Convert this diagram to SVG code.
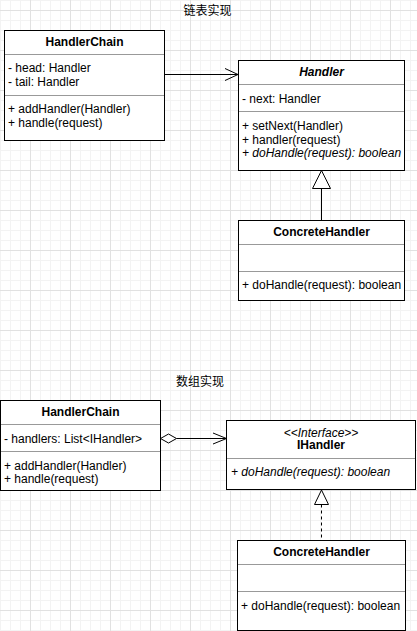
<svg xmlns="http://www.w3.org/2000/svg" width="417" height="631" viewBox="0 0 417 631">
<style>
text{font-family:"Liberation Sans",Arial,"Noto Sans CJK SC",sans-serif;font-size:12px;fill:#000}
.t{font-weight:bold;text-anchor:middle}
.c{text-anchor:middle}
.i{font-style:italic}
.box{fill:#fff;stroke:#000;stroke-width:1}
.div{stroke:#999;stroke-width:1}
.ln{fill:none;stroke:#000;stroke-width:1}
</style>
<defs>
<pattern id="minor" width="10" height="10" patternUnits="userSpaceOnUse">
<path d="M0.5 0V10M0 0.5H10" stroke="#f3f3f3" stroke-width="1" fill="none"/>
</pattern>
<pattern id="major" x="30" y="10" width="40" height="40" patternUnits="userSpaceOnUse">
<path d="M0.5 0V40M0 0.5H40" stroke="#e1e1e1" stroke-width="1" fill="none"/>
</pattern>
</defs>
<rect width="417" height="631" fill="#fff"/>
<rect width="417" height="631" fill="url(#minor)"/>
<rect width="417" height="631" fill="url(#major)"/>

<text class="c" x="207.5" y="15">链表实现</text>
<text class="c" x="200" y="386">数组实现</text>

<g id="connectors">
<line class="ln" x1="164.5" y1="74.5" x2="238" y2="74.5"/>
<polyline class="ln" points="225,68.5 238,74.5 225,80.5"/>
<line class="ln" x1="321.5" y1="188.5" x2="321.5" y2="220.5"/>
<polygon class="box" points="321.5,170.5 330.5,188.5 312.5,188.5"/>
<line class="ln" x1="176.5" y1="438.5" x2="226.5" y2="438.5"/>
<polygon class="box" points="160.5,438.5 168.5,434 176.5,438.5 168.5,443"/>
<polyline class="ln" points="213,433 226.5,438.5 213,444"/>
<line class="ln" x1="321.5" y1="504.5" x2="321.5" y2="540.5" stroke-dasharray="3,3"/>
<polygon class="box" points="321.5,490 328.5,504.5 314.5,504.5"/>
</g>

<g id="handlerchain1">
<rect class="box" x="4.5" y="30.5" width="160" height="110"/>
<line class="div" x1="5" y1="54.5" x2="164" y2="54.5"/>
<line class="div" x1="5" y1="95.5" x2="164" y2="95.5"/>
<text class="t" x="84.5" y="45.5">HandlerChain</text>
<text x="8" y="72">- head: Handler</text>
<text x="8" y="86">- tail: Handler</text>
<text x="8" y="113">+ addHandler(Handler)</text>
<text x="8" y="127">+ handle(request)</text>
</g>

<g id="handler">
<rect class="box" x="238.5" y="60.5" width="166" height="110"/>
<line class="div" x1="239" y1="84.5" x2="404" y2="84.5"/>
<line class="div" x1="239" y1="111.5" x2="404" y2="111.5"/>
<text class="t i" x="321.5" y="75.5">Handler</text>
<text x="242" y="102.5">- next: Handler</text>
<text x="242" y="129.5">+ setNext(Handler)</text>
<text x="242" y="143.5">+ handler(request)</text>
<text class="i" x="242" y="157">+ doHandle(request): boolean</text>
</g>

<g id="concretehandler1">
<rect class="box" x="238.5" y="220.5" width="166" height="80"/>
<line class="div" x1="239" y1="244.5" x2="404" y2="244.5"/>
<line class="div" x1="239" y1="271.5" x2="404" y2="271.5"/>
<text class="t" x="321.5" y="235.5">ConcreteHandler</text>
<text x="242" y="289">+ doHandle(request): boolean</text>
</g>

<g id="handlerchain2">
<rect class="box" x="0.5" y="400.5" width="160" height="90"/>
<line class="div" x1="1" y1="424.5" x2="160" y2="424.5"/>
<line class="div" x1="1" y1="451.5" x2="160" y2="451.5"/>
<text class="t" x="80.5" y="415.5">HandlerChain</text>
<text x="4" y="443">- handlers: List&lt;IHandler&gt;</text>
<text x="4" y="469.5">+ addHandler(Handler)</text>
<text x="4" y="483">+ handle(request)</text>
</g>

<g id="ihandler">
<rect class="box" x="226.5" y="420.5" width="189" height="69"/>
<line class="div" x1="227" y1="458.5" x2="415" y2="458.5"/>
<text class="c i" x="321" y="436.5">&lt;&lt;Interface&gt;&gt;</text>
<text class="t" x="321" y="449">IHandler</text>
<text class="i" x="231" y="475.5">+ doHandle(request): boolean</text>
</g>

<g id="concretehandler2">
<rect class="box" x="237.5" y="540.5" width="168" height="90"/>
<line class="div" x1="238" y1="564.5" x2="405" y2="564.5"/>
<line class="div" x1="238" y1="591.5" x2="405" y2="591.5"/>
<text class="t" x="321.5" y="556">ConcreteHandler</text>
<text x="241" y="609.5">+ doHandle(request): boolean</text>
</g>
</svg>
